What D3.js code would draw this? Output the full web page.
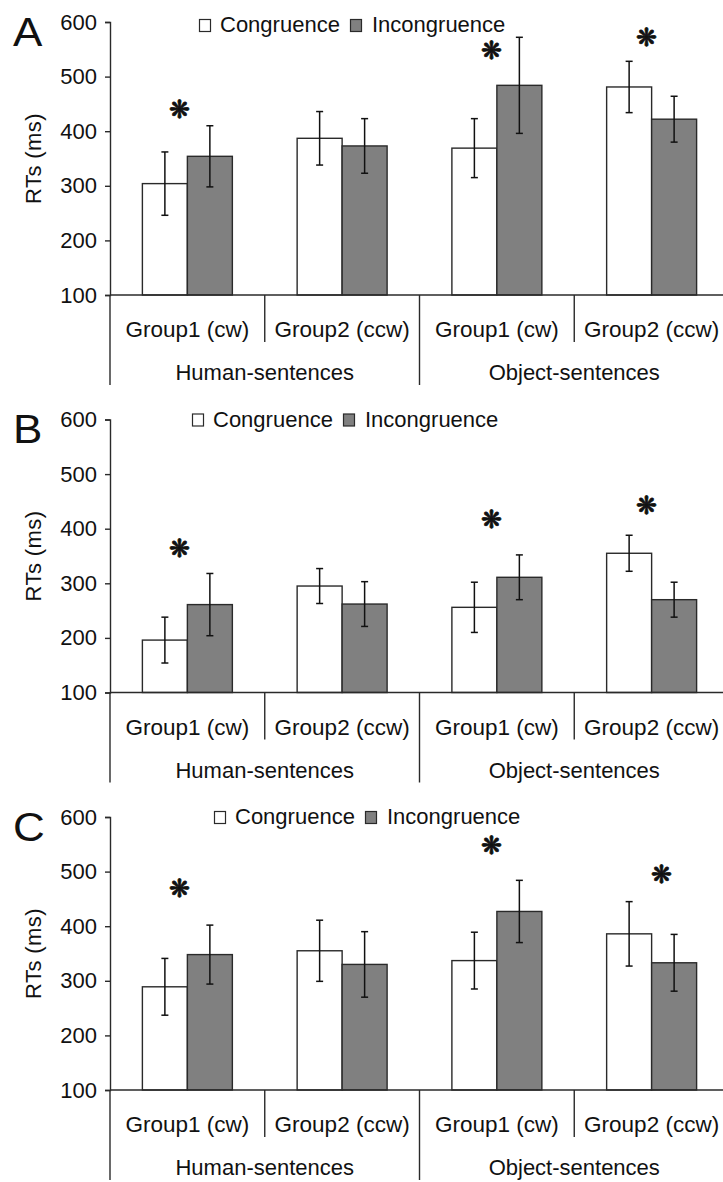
<!DOCTYPE html>
<html>
<head>
<meta charset="utf-8">
<script src="https://cdn.jsdelivr.net/npm/d3@7"></script>
<style>
  html, body { margin: 0; padding: 0; background: #ffffff; }
  svg { display: block; }
  text { font-family: "Liberation Sans", Arial, sans-serif; fill: #111; }
</style>
</head>
<body>
<script>
// ---- data ----
const panelNames = ["A", "B", "C"];
const conditions = ["Congruence", "Incongruence"];
const groups = ["Group1 (cw)", "Group2 (ccw)", "Group1 (cw)", "Group2 (ccw)"];
const sentenceTypes = ["Human-sentences", "Object-sentences"];
const yTicks = [100, 200, 300, 400, 500, 600];
const yLabel = "RTs (ms)";

// mean RTs (ms) and error bar half-widths per group
const congruenceA = [304, 387, 369, 481];
const congruenceErrA = [58, 49, 54, 47];
const incongruenceA = [354, 373, 484, 422];
const incongruenceErrA = [56, 50, 88, 42];

const congruenceB = [196, 295, 256, 355];
const congruenceErrB = [42, 32, 46, 33];
const incongruenceB = [261, 262, 311, 270];
const incongruenceErrB = [57, 41, 41, 32];

const congruenceC = [289, 355, 337, 386];
const congruenceErrC = [52, 56, 52, 59];
const incongruenceC = [348, 330, 427, 333];
const incongruenceErrC = [54, 60, 57, 52];

// significance markers: group index and height (ms)
const sigGroupsA = [0, 2, 3];
const sigLevelA = [441, 549, 572];
const sigGroupsB = [0, 2, 3];
const sigLevelB = [364, 417, 443];
const sigGroupsC = [0, 2, 3];
const sigLevelC = [470, 548, 496];

const panelData = [
  { name: panelNames[0], cong: congruenceA, congErr: congruenceErrA, incong: incongruenceA, incongErr: incongruenceErrA, sigG: sigGroupsA, sigV: sigLevelA },
  { name: panelNames[1], cong: congruenceB, congErr: congruenceErrB, incong: incongruenceB, incongErr: incongruenceErrB, sigG: sigGroupsB, sigV: sigLevelB },
  { name: panelNames[2], cong: congruenceC, congErr: congruenceErrC, incong: incongruenceC, incongErr: incongruenceErrC, sigG: sigGroupsC, sigV: sigLevelC }
];

// ---- layout ----
const W = 723, H = 1182;
const plotLeft = 110, plotRight = 729;
const panelTops = [22, 419.5, 817];
const plotH = 273;
const legendLeft = [199, 192, 214];
const legendDy = [10, 7, 7];
const sigNudge = [[-8, -5, -5], [-8, -5, -5], [-8, -5, 10]];
const fillColor = { Congruence: "#ffffff", Incongruence: "#808080" };
const lineColor = "#2a2a2a";

const svg = d3.select("body").append("svg")
  .attr("width", W).attr("height", H)
  .attr("viewBox", `0 0 ${W} ${H}`);

const x = d3.scaleBand().domain(d3.range(groups.length)).range([plotLeft, plotRight]).padding(0);
const xInner = d3.scaleBand().domain(conditions).range([0, x.bandwidth()]).paddingInner(0).paddingOuter(0.72);

panelData.forEach((p, pi) => {
  const top = panelTops[pi];
  const bottom = top + plotH;
  const y = d3.scaleLinear().domain([100, 600]).range([bottom, top]);
  const g = svg.append("g");

  // panel letter
  g.append("text")
    .attr("x", 13).attr("y", top + 24)
    .attr("font-size", 40)
    .attr("transform", `translate(13,0) scale(1.1,1) translate(-13,0)`)
    .text(p.name);

  // y axis label
  g.append("text")
    .attr("transform", `translate(41,${(top + bottom) / 2}) rotate(-90)`)
    .attr("text-anchor", "middle")
    .attr("font-size", 22)
    .attr("letter-spacing", 0.4)
    .text(yLabel);

  // y axis
  const yAxis = g.append("g")
    .attr("transform", `translate(${plotLeft},0)`)
    .call(d3.axisLeft(y).tickValues(yTicks).tickSize(5).tickPadding(8).tickFormat(d3.format("d")));
  yAxis.select(".domain").attr("stroke", lineColor).attr("stroke-width", 1.4);
  yAxis.selectAll(".tick line").attr("stroke", lineColor).attr("stroke-width", 1.4);
  yAxis.selectAll(".tick text").attr("font-size", 22).attr("fill", "#111")
    .attr("font-family", "'Liberation Sans', Arial, sans-serif");

  // bars
  const rows = [];
  groups.forEach((grp, i) => {
    rows.push({ i, cond: conditions[0], v: p.cong[i], e: p.congErr[i] });
    rows.push({ i, cond: conditions[1], v: p.incong[i], e: p.incongErr[i] });
  });

  g.selectAll("rect.bar").data(rows).join("rect")
    .attr("class", "bar")
    .attr("x", d => x(d.i) + xInner(d.cond))
    .attr("width", xInner.bandwidth())
    .attr("y", d => y(d.v))
    .attr("height", d => y(100) - y(d.v))
    .attr("fill", d => fillColor[d.cond])
    .attr("stroke", lineColor)
    .attr("stroke-width", 1.4);

  // error bars
  const eb = g.selectAll("g.err").data(rows).join("g").attr("class", "err")
    .attr("transform", d => `translate(${x(d.i) + xInner(d.cond) + xInner.bandwidth() / 2},0)`);
  eb.append("line").attr("x1", 0).attr("x2", 0)
    .attr("y1", d => y(d.v + d.e)).attr("y2", d => y(d.v - d.e))
    .attr("stroke", "#111").attr("stroke-width", 1.5);
  eb.append("line").attr("x1", -3.5).attr("x2", 3.5)
    .attr("y1", d => y(d.v + d.e)).attr("y2", d => y(d.v + d.e))
    .attr("stroke", "#111").attr("stroke-width", 1.5);
  eb.append("line").attr("x1", -3.5).attr("x2", 3.5)
    .attr("y1", d => y(d.v - d.e)).attr("y2", d => y(d.v - d.e))
    .attr("stroke", "#111").attr("stroke-width", 1.5);

  // x axis baseline
  g.append("line")
    .attr("x1", plotLeft).attr("x2", plotRight)
    .attr("y1", y(100)).attr("y2", y(100))
    .attr("stroke", lineColor).attr("stroke-width", 1.4);

  // category dividers below the axis
  d3.range(groups.length + 1).forEach(k => {
    const xx = k < groups.length ? x(k) : plotRight;
    const long = k % 2 === 0;
    g.append("line")
      .attr("x1", xx).attr("x2", xx)
      .attr("y1", y(100)).attr("y2", y(100) + (long ? 90 : 47))
      .attr("stroke", lineColor).attr("stroke-width", 1.4);
  });

  // group labels
  g.selectAll("text.grp").data(groups).join("text")
    .attr("class", "grp")
    .attr("x", (d, i) => x(i) + x.bandwidth() / 2)
    .attr("y", y(100) + 42)
    .attr("text-anchor", "middle")
    .attr("font-size", 22.5)
    .text(d => d);

  // sentence-type labels
  g.selectAll("text.stype").data(sentenceTypes).join("text")
    .attr("class", "stype")
    .attr("x", (d, i) => x(i * 2) + x.bandwidth())
    .attr("y", y(100) + 85)
    .attr("text-anchor", "middle")
    .attr("font-size", 22)
    .text(d => d);

  // significance markers
  p.sigG.forEach((gi, k) => {
    g.append("text")
      .attr("x", x(gi) + x.bandwidth() / 2 + sigNudge[pi][k])
      .attr("y", y(p.sigV[k]))
      .attr("dy", "0.35em")
      .attr("text-anchor", "middle")
      .attr("font-family", "'DejaVu Sans', sans-serif")
      .attr("font-size", 25)
      .attr("stroke", "#111")
      .attr("stroke-width", 0.8)
      .text("\u274B");
  });

  // legend
  const lg = g.append("g").attr("transform", `translate(${legendLeft[pi]},${top + legendDy[pi]})`);
  conditions.forEach((c, k) => {
    const item = lg.append("g").attr("transform", `translate(${k * 151},0)`);
    item.append("rect").attr("x", 0.5).attr("y", -12.5).attr("width", 11).attr("height", 12)
      .attr("fill", fillColor[c]).attr("stroke", lineColor).attr("stroke-width", 1.2);
    item.append("text").attr("x", k === 0 ? 21 : 22).attr("y", 0)
      .attr("font-size", 22)
      .text(c);
  });
});
</script>
</body>
</html>
